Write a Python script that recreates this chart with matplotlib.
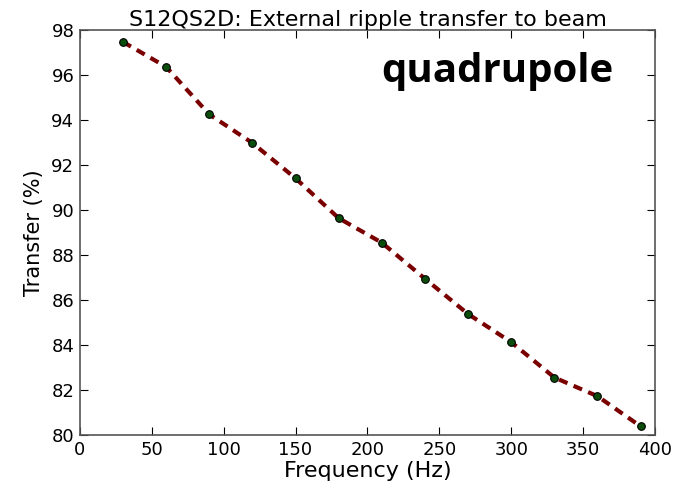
import matplotlib
matplotlib.use("Agg")
import matplotlib.pyplot as plt

freq = [30, 60, 90, 120, 150, 180, 210, 240, 270, 300, 330, 360, 390]
transfer = [97.47, 96.36, 94.25, 92.98, 91.41, 89.64, 88.55, 86.95, 85.38,
            84.13, 82.56, 81.73, 80.39]

fig = plt.figure(figsize=(6.77, 4.84), dpi=100)
ax = fig.add_axes([0.118, 0.101, 0.8495, 0.837])

ax.plot(freq, transfer, "--", color="#7a0000", lw=3, dashes=(2.2, 1.6), zorder=1)
ax.plot(freq, transfer, "o", color="#0b4d0b", mec="black", mew=0.8, ms=5.5, zorder=2)

ax.set_xlim(0, 400)
ax.set_ylim(80, 98)
ax.set_xticks(range(0, 401, 50))
ax.set_yticks(range(80, 99, 2))
ax.tick_params(direction="in", top=True, right=True, length=6, labelsize=13, pad=4)
for s in ax.spines.values():
    s.set_color("#555555")
    s.set_linewidth(1.2)

ax.set_xlabel("Frequency (Hz)", fontsize=16, labelpad=2)
ax.set_ylabel("Transfer (%)", fontsize=15, labelpad=5)
ax.set_title("S12QS2D: External ripple transfer to beam", fontsize=16, pad=3)
ax.text(0.927, 0.872, "quadrupole", transform=ax.transAxes, ha="right", va="baseline",
        fontsize=29, fontweight="bold", family="Open Sans")

fig.savefig("out.png", dpi=100)
